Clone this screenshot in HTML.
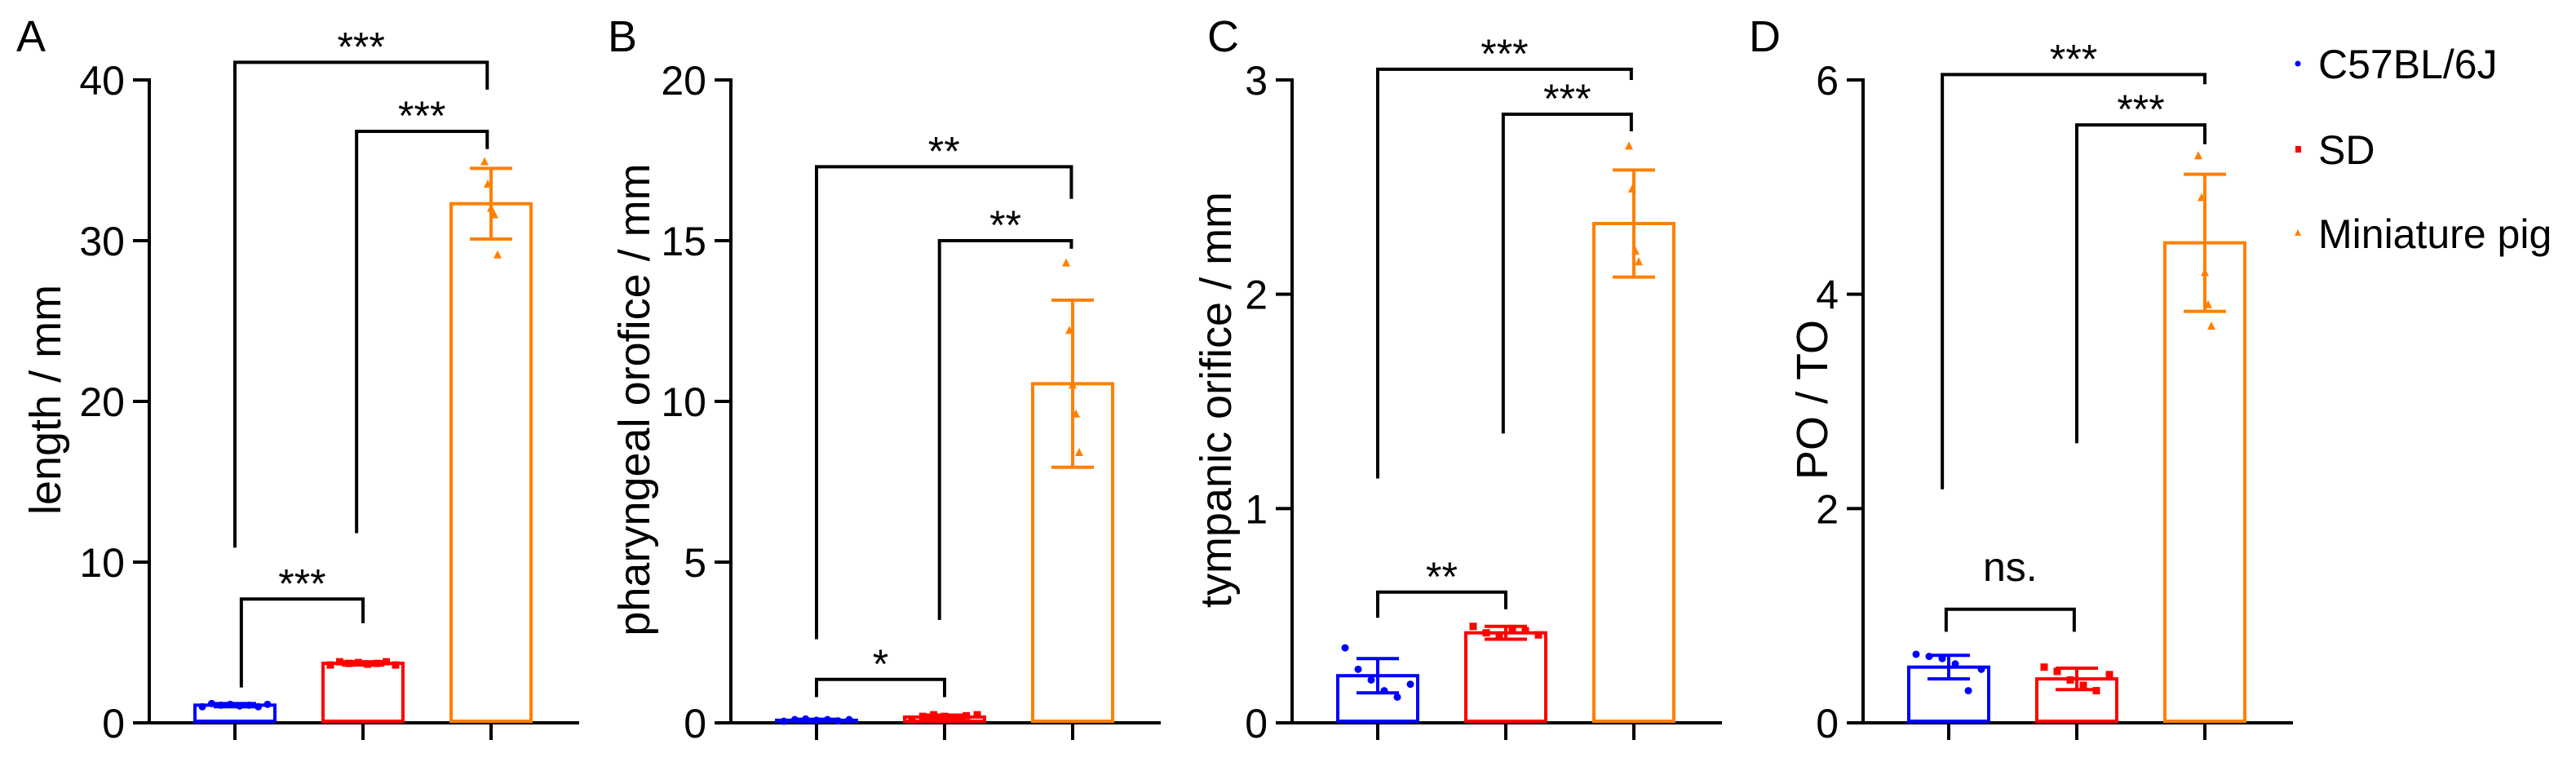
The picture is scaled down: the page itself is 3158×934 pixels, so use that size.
<!DOCTYPE html>
<html><head><meta charset="utf-8"><style>
html,body{margin:0;padding:0;background:#fff;}
svg{display:block;font-family:"Liberation Sans",Arial,sans-serif;}
</style></head><body>
<svg id="fig" width="3158" height="934" viewBox="0 0 3158 934" xmlns="http://www.w3.org/2000/svg"></svg>
<script>
// ---- data ----
const groups = ["C57BL/6J", "SD", "Miniature pig"];
const groupColors = ["#0000ff", "#ff0000", "#ff8000"];

const aMeans = [1.1, 3.7, 32.3];
const aSD = [0.1, 0.1, 2.2];
const aPtsBlue = [1.0, 1.2, 1.1, 1.15, 1.05, 1.1, 1.0, 1.15];
const aPtsRed = [3.6, 3.8, 3.7, 3.75, 3.65, 3.7, 3.8, 3.6];
const aPtsOrange = [34.9, 33.5, 32.0, 31.6, 29.1];
const aTicks = [0, 10, 20, 30, 40];

const bMeans = [0.08, 0.18, 10.55];
const bSD = [0.03, 0.06, 2.6];
const bPtsBlue = [0.05, 0.1, 0.12, 0.08, 0.1, 0.06, 0.1];
const bPtsRed = [0.1, 0.2, 0.25, 0.2, 0.15, 0.22, 0.25];
const bPtsOrange = [14.3, 12.2, 10.5, 9.6, 8.4];
const bTicks = [0, 5, 10, 15, 20];

const cMeans = [0.22, 0.42, 2.33];
const cSD = [0.08, 0.03, 0.25];
const cPtsBlue = [0.35, 0.25, 0.2, 0.15, 0.12, 0.18];
const cPtsRed = [0.45, 0.42, 0.4, 0.44, 0.43, 0.41];
const cPtsOrange = [2.69, 2.49, 2.2, 2.15];
const cTicks = [0, 1, 2, 3];

const dMeans = [0.52, 0.41, 4.48];
const dSD = [0.11, 0.1, 0.64];
const dPtsBlue = [0.64, 0.62, 0.6, 0.55, 0.3, 0.5];
const dPtsRed = [0.52, 0.48, 0.4, 0.35, 0.3, 0.45];
const dPtsOrange = [5.29, 4.9, 4.2, 3.9, 3.7];
const dTicks = [0, 2, 4, 6];

// brackets: [x1 (group units), x2, levelValue, leftLegEnd, rightLegEnd, label]
const aBrackets = [[0, 1.97, 41.1, 10.9, 39.4, "***"], [0.95, 1.97, 36.8, 11.8, 35.7, "***"], [0.05, 1.0, 7.7, 2.2, 6.2, "***"]];
const bBrackets = [[0, 1.99, 17.3, 2.6, 16.3, "**"], [0.96, 1.99, 15.0, 3.2, 14.75, "**"], [0, 1.0, 1.35, 0.8, 0.8, "*"]];
const cBrackets = [[0, 1.98, 3.05, 1.14, 3.0, "***"], [0.98, 1.98, 2.84, 1.35, 2.76, "***"], [0, 1.0, 0.61, 0.49, 0.53, "**"]];
const dBrackets = [[-0.05, 2.0, 6.05, 2.18, 5.96, "***"], [1.0, 2.0, 5.58, 2.61, 5.4, "***"], [-0.02, 0.98, 1.06, 0.85, 0.85, "ns."]];

const NS = "http://www.w3.org/2000/svg";
const svg = document.getElementById("fig");
function mk(tag, attrs, parent) {
  const e = document.createElementNS(NS, tag);
  for (const k in attrs) e.setAttribute(k, attrs[k]);
  (parent || svg).appendChild(e);
  return e;
}

const Y0 = 886, YTOP = 98;
const panels = [
  {id: "a", letter: "A", lx: 20, axisX: 183, title: "length / mm", titleX: 56, max: 40, ticks: aTicks, means: aMeans, sd: aSD, pts: [aPtsBlue, aPtsRed, aPtsOrange], br: aBrackets},
  {id: "b", letter: "B", lx: 745, axisX: 896, title: "pharyngeal orofice / mm", titleX: 778, max: 20, ticks: bTicks, means: bMeans, sd: bSD, pts: [bPtsBlue, bPtsRed, bPtsOrange], br: bBrackets},
  {id: "c", letter: "C", lx: 1480, axisX: 1584, title: "tympanic orifice / mm", titleX: 1491, max: 3, ticks: cTicks, means: cMeans, sd: cSD, pts: [cPtsBlue, cPtsRed, cPtsOrange], br: cBrackets},
  {id: "d", letter: "D", lx: 2144, axisX: 2284, title: "PO / TO", titleX: 2222, max: 6, ticks: dTicks, means: dMeans, sd: dSD, pts: [dPtsBlue, dPtsRed, dPtsOrange], br: dBrackets}
];

panels.forEach(p => {
  const g = mk("g", {});
  
  
  const yScale = v => Y0 - (v / p.max) * (Y0 - YTOP);
  const xScale = i => p.axisX + 105 + i * 157;

  const letter = mk("text", {x: p.lx, y: 63, "font-size": 54, fill: "#000"}, g);
  letter.textContent = p.letter;
  
  

  const t = mk("text", {x: p.titleX, y: 490, "font-size": 54, fill: "#000", "text-anchor": "middle", "dominant-baseline": "central", transform: `rotate(-90 ${p.titleX} 490)`}, g);
  t.textContent = p.title;
  
  

  const yax = mk("line", {x1: p.axisX, y1: YTOP - 2, x2: p.axisX, y2: Y0 + 2, stroke: "#000", "stroke-width": 4}, g);
  
  
  const xax = mk("line", {x1: p.axisX - 20, y1: Y0, x2: p.axisX + 527, y2: Y0, stroke: "#000", "stroke-width": 4}, g);
  
  

  p.ticks.forEach(v => {
    const y = yScale(v);
    const tk = mk("line", {x1: p.axisX - 20, y1: y, x2: p.axisX, y2: y, stroke: "#000", "stroke-width": 4}, g);
    
    
    const tl = mk("text", {x: p.axisX - 30, y: y + 18, "font-size": 50, "text-anchor": "end", fill: "#000"}, g);
    tl.textContent = v;
    
    
  });

  p.means.forEach((m, i) => {
    const cx = xScale(i), col = groupColors[i];
    const xt = mk("line", {x1: cx, y1: Y0, x2: cx, y2: Y0 + 21, stroke: "#000", "stroke-width": 4}, g);
    
    
    const yb = yScale(m);
    const bar = mk("rect", {x: cx - 49, y: yb, width: 98, height: Y0 - yb - 2, fill: "none", stroke: col, "stroke-width": 4}, g);
    
    
    const yt = yScale(m + p.sd[i]), ybm = yScale(m - p.sd[i]);
    const eb = mk("path", {d: `M${cx},${yt}V${ybm}M${cx - 26},${yt}H${cx + 26}M${cx - 26},${ybm}H${cx + 26}`, stroke: col, "stroke-width": 4, fill: "none"}, g);
    
    
    const pts = p.pts[i], n = pts.length;
    pts.forEach((v, k) => {
      const off = n > 1 ? (k - (n - 1) / 2) * (i === 2 ? 4 : 80 / (n - 1)) : 0;
      const px = cx + off, py = yScale(v);
      let mark;
      if (i === 0) mark = mk("circle", {cx: px, cy: py, r: 4.5, fill: col}, g);
      else if (i === 1) mark = mk("rect", {x: px - 4.5, y: py - 4.5, width: 9, height: 9, fill: col}, g);
      else mark = mk("path", {d: `M${px},${py - 6}L${px + 5},${py + 4}L${px - 5},${py + 4}Z`, fill: col}, g);
      
      
    });
  });

  p.br.forEach(b => {
    const x1 = xScale(b[0]), x2 = xScale(b[1]), y = yScale(b[2]);
    const path = mk("path", {d: `M${x1},${yScale(b[3])}V${y}H${x2}V${yScale(b[4])}`, stroke: "#000", "stroke-width": 4, fill: "none"}, g);
    
    
    const isNs = b[5] === "ns.";
    const lab = mk("text", {x: (x1 + x2) / 2, y: isNs ? y - 35 : y - 2, "font-size": isNs ? 50 : 50, "text-anchor": "middle", fill: "#000"}, g);
    lab.textContent = b[5];
    
    
  });
});

// legend
const legendY = [78, 183, 286];
groups.forEach((name, i) => {
  const lg = mk("g", {});
  
  
  const y = legendY[i];
  let m;
  if (i === 0) m = mk("circle", {cx: 2817, cy: y, r: 3.5, fill: groupColors[i]}, lg);
  else if (i === 1) m = mk("rect", {x: 2814, y: y - 4, width: 7, height: 8, fill: groupColors[i]}, lg);
  else m = mk("path", {d: `M2817,${y - 5}L2821,${y + 3}L2813,${y + 3}Z`, fill: groupColors[i]}, lg);
  
  
  const tx = mk("text", {x: 2842, y: y + 18, "font-size": 50, fill: "#000"}, lg);
  tx.textContent = name;
  
  
});
</script>
</body></html>
